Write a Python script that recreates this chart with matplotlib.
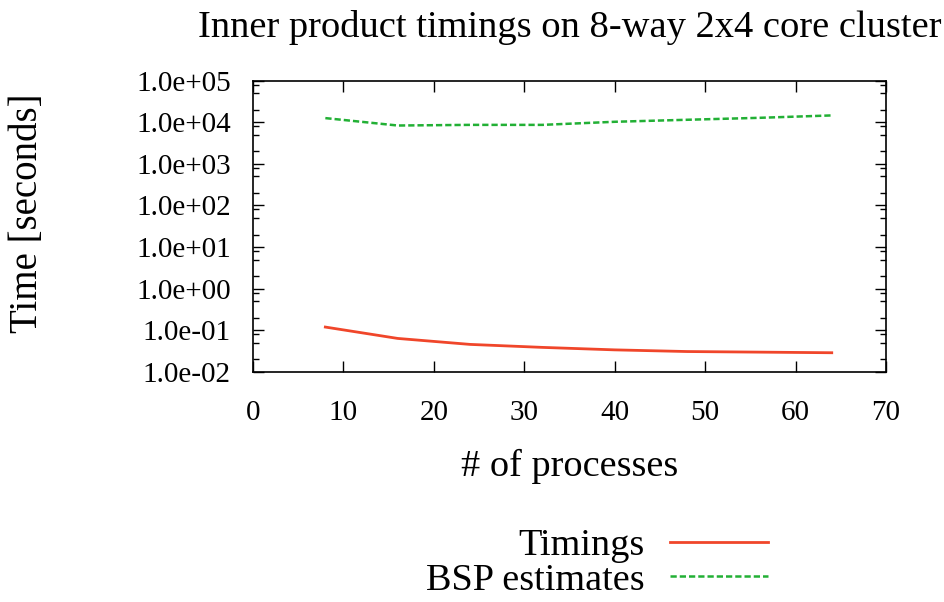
import matplotlib
matplotlib.use("Agg")
import matplotlib.pyplot as plt
from matplotlib.ticker import LogLocator, FixedLocator, NullFormatter

plt.rcParams['font.family'] = ['Liberation Serif', 'DejaVu Serif']

procs = [8, 16, 24, 32, 40, 48, 56, 64]
timings = [0.12, 0.064, 0.046, 0.039, 0.034, 0.031, 0.030, 0.029]
bsp_est = [12500, 8300, 8600, 8600, 10200, 11400, 12700, 14500]

ytick_vals = [1e-2, 1e-1, 1e0, 1e1, 1e2, 1e3, 1e4, 1e5]
ytick_labels = ["1.0e-02", "1.0e-01", "1.0e+00", "1.0e+01",
                "1.0e+02", "1.0e+03", "1.0e+04", "1.0e+05"]
xtick_vals = [0, 10, 20, 30, 40, 50, 60, 70]

fig = plt.figure(figsize=(9.45, 6.02), dpi=100)
ax = fig.add_axes([253 / 945, 1 - 372 / 602, 633 / 945, 291.5 / 602])

l1, = ax.plot(procs, timings, color="#f0462a", lw=2, label="Timings")
l2, = ax.plot(procs, bsp_est, color="#22b035", lw=1.8, ls=(0, (2.5, 1.2)),
              label="BSP estimates")

ax.set_yscale("log")
ax.set_xlim(0, 70)
ax.set_ylim(1e-2, 1e5)
ax.set_xticks(xtick_vals)
ax.yaxis.set_major_locator(FixedLocator(ytick_vals))
ax.set_yticklabels(ytick_labels)
ax.yaxis.set_minor_locator(LogLocator(base=10, subs=(2, 5, 8), numticks=20))
ax.yaxis.set_minor_formatter(NullFormatter())

ax.tick_params(which="both", direction="in", top=True, right=True, width=1)
ax.tick_params(which="major", length=8)
ax.tick_params(which="minor", length=4)
ax.tick_params(axis="y", which="major", labelsize=21, pad=16)
ax.tick_params(axis="x", which="major", labelsize=21, pad=20)
for s in ax.spines.values():
    s.set_linewidth(1.2)

fig.text(570 / 945, 1 - 37 / 602, "Inner product timings on 8-way 2x4 core cluster",
         ha="center", va="baseline", fontsize=27.7)
fig.text(570 / 945, 1 - 466 / 602, "# of processes", ha="center", va="center",
         fontsize=27.5)
fig.text(28 / 945, 1 - 213 / 602, "Time [seconds]", ha="center", va="center",
         rotation=90, fontsize=28)

fig.legend(handles=[l1, l2], loc="center", bbox_to_anchor=(597 / 945, 1 - 563 / 602),
           frameon=False, markerfirst=False, fontsize=27.5, handlelength=2.57,
           labelspacing=0.0, handletextpad=0.65, borderpad=0)

fig.savefig("out.png", dpi=100)
